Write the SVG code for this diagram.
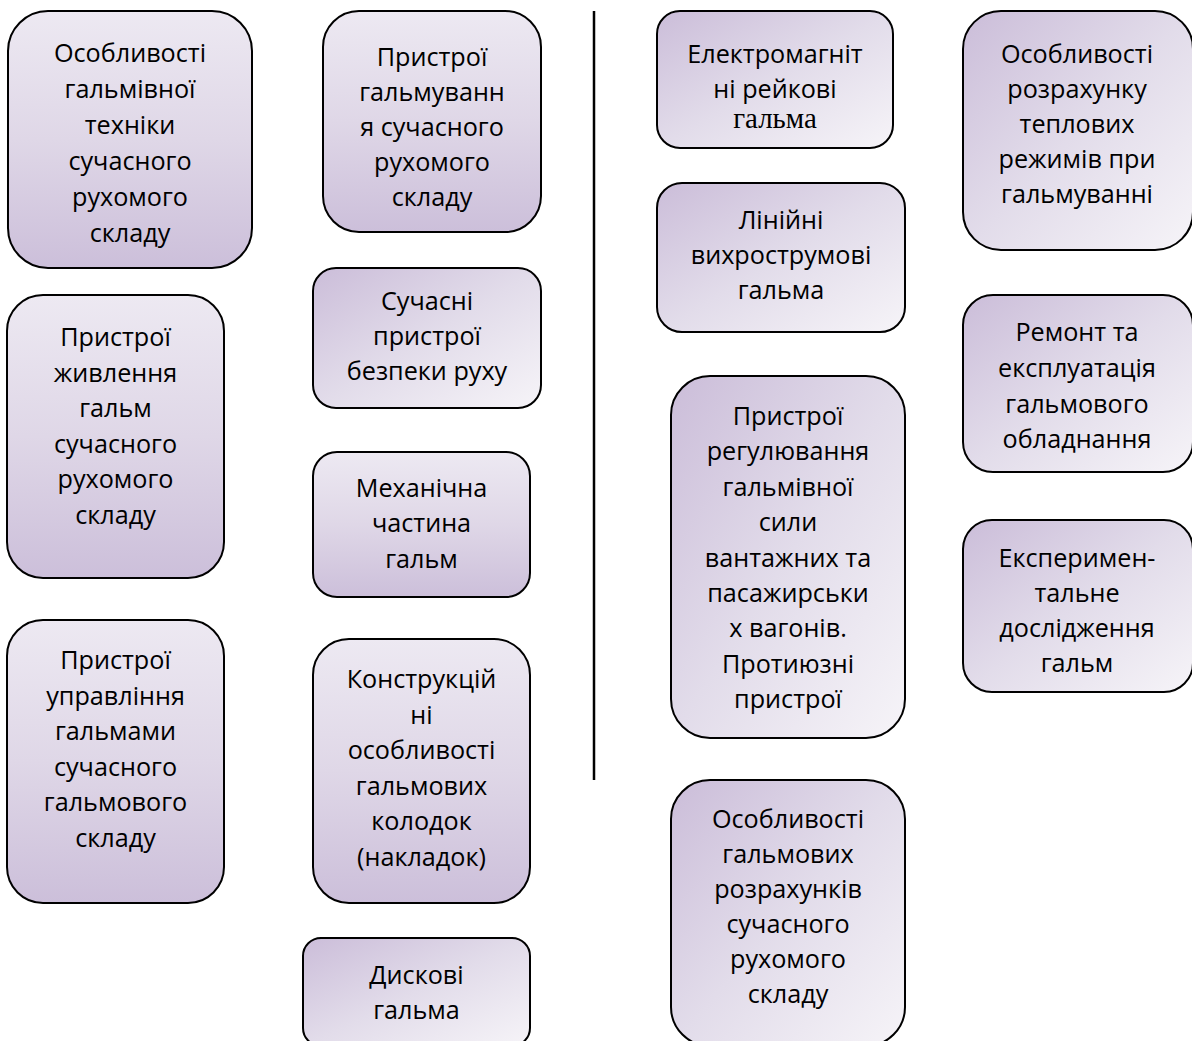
<svg xmlns="http://www.w3.org/2000/svg" width="1192" height="1041" viewBox="0 0 1192 1041">
<defs>
<linearGradient id="gA" x1="0" y1="0" x2="0" y2="1">
<stop offset="0" stop-color="#EDE9F2"/>
<stop offset="0.5" stop-color="#DFD7E7"/>
<stop offset="1" stop-color="#CCBFDA"/>
</linearGradient>
<linearGradient id="gB" x1="0" y1="0" x2="1" y2="1">
<stop offset="0" stop-color="#CBBDD9"/>
<stop offset="0.5" stop-color="#E2DCEA"/>
<stop offset="1" stop-color="#F6F4F8"/>
</linearGradient>
<style>
.a{fill:url(#gA);stroke:#000;stroke-width:2}
.b{fill:url(#gB);stroke:#000;stroke-width:2}
text{font-family:"Open Sans","Noto Sans","DejaVu Sans",sans-serif;font-size:25.2px;fill:#000;text-anchor:middle}
.serif{font-family:"Liberation Serif","DejaVu Serif",serif;font-size:29px}
</style>
</defs>
<rect width="1192" height="1041" fill="#fff"/>
<g id="connectors">
<line x1="594" y1="11" x2="594" y2="780" stroke="#000" stroke-width="2.5"/>
</g>
<g id="n1">
<rect class="a" x="8" y="11" width="244" height="257" rx="40"/>
<text x="130" y="62">Особливості</text>
<text x="130" y="98">гальмівної</text>
<text x="130" y="134">техніки</text>
<text x="130" y="170">сучасного</text>
<text x="130" y="206">рухомого</text>
<text x="130" y="242">складу</text>
</g>
<g id="n2">
<rect class="a" x="7" y="295" width="217" height="283" rx="36"/>
<text x="115.5" y="346">Пристрої</text>
<text x="115.5" y="381.5">живлення</text>
<text x="115.5" y="417">гальм</text>
<text x="115.5" y="452.5">сучасного</text>
<text x="115.5" y="488">рухомого</text>
<text x="115.5" y="523.5">складу</text>
</g>
<g id="n3">
<rect class="a" x="7" y="620" width="217" height="283" rx="36"/>
<text x="115.5" y="669">Пристрої</text>
<text x="115.5" y="704.5">управління</text>
<text x="115.5" y="740">гальмами</text>
<text x="115.5" y="775.5">сучасного</text>
<text x="115.5" y="811">гальмового</text>
<text x="115.5" y="846.5">складу</text>
</g>
<g id="n4">
<rect class="a" x="323" y="11" width="218" height="221" rx="36"/>
<text x="432" y="66">Пристрої</text>
<text x="432" y="101">гальмуванн</text>
<text x="432" y="136">я сучасного</text>
<text x="432" y="171">рухомого</text>
<text x="432" y="206">складу</text>
</g>
<g id="n5">
<rect class="b" x="313" y="268" width="228" height="140" rx="23"/>
<text x="427" y="310">Сучасні</text>
<text x="427" y="345">пристрої</text>
<text x="427" y="380">безпеки руху</text>
</g>
<g id="n6">
<rect class="a" x="313" y="452" width="217" height="145" rx="24"/>
<text x="421.5" y="497">Механічна</text>
<text x="421.5" y="532">частина</text>
<text x="421.5" y="568">гальм</text>
</g>
<g id="n7">
<rect class="a" x="313" y="639" width="217" height="264" rx="36"/>
<text x="421.5" y="688">Конструкцій</text>
<text x="421.5" y="723.5">ні</text>
<text x="421.5" y="759">особливості</text>
<text x="421.5" y="794.5">гальмових</text>
<text x="421.5" y="830">колодок</text>
<text x="421.5" y="865.5">(накладок)</text>
</g>
<g id="n8">
<rect class="b" x="303" y="938" width="227" height="108" rx="18"/>
<text x="416.5" y="984">Дискові</text>
<text x="416.5" y="1019">гальма</text>
</g>
<g id="n9">
<rect class="b" x="657" y="11" width="236" height="137" rx="23"/>
<text x="775" y="63">Електромагніт</text>
<text x="775" y="98">ні рейкові</text>
<text class="serif" x="775" y="128">гальма</text>
</g>
<g id="n10">
<rect class="b" x="657" y="183" width="248" height="149" rx="25"/>
<text x="781" y="229">Лінійні</text>
<text x="781" y="264">вихрострумові</text>
<text x="781" y="299">гальма</text>
</g>
<g id="n11">
<rect class="b" x="963" y="11" width="230" height="239" rx="38"/>
<text x="1077" y="63">Особливості</text>
<text x="1077" y="98">розрахунку</text>
<text x="1077" y="133">теплових</text>
<text x="1077" y="168">режимів при</text>
<text x="1077" y="203">гальмуванні</text>
</g>
<g id="n12">
<rect class="b" x="963" y="295" width="230" height="177" rx="30"/>
<text x="1077" y="341">Ремонт та</text>
<text x="1077" y="377">експлуатація</text>
<text x="1077" y="413">гальмового</text>
<text x="1077" y="448">обладнання</text>
</g>
<g id="n13">
<rect class="b" x="963" y="520" width="230" height="172" rx="29"/>
<text x="1077" y="567">Експеримен-</text>
<text x="1077" y="602">тальне</text>
<text x="1077" y="637">дослідження</text>
<text x="1077" y="672">гальм</text>
</g>
<g id="n14">
<rect class="b" x="671" y="376" width="234" height="362" rx="39"/>
<text x="788" y="425">Пристрої</text>
<text x="788" y="460.4">регулювання</text>
<text x="788" y="495.8">гальмівної</text>
<text x="788" y="531.2">сили</text>
<text x="788" y="566.6">вантажних та</text>
<text x="788" y="602">пасажирськи</text>
<text x="788" y="637.4">х вагонів.</text>
<text x="788" y="672.8">Протиюзні</text>
<text x="788" y="708.2">пристрої</text>
</g>
<g id="n15">
<rect class="b" x="671" y="780" width="234" height="266" rx="39"/>
<text x="788" y="828">Особливості</text>
<text x="788" y="863">гальмових</text>
<text x="788" y="898">розрахунків</text>
<text x="788" y="933">сучасного</text>
<text x="788" y="968">рухомого</text>
<text x="788" y="1003">складу</text>
</g>
</svg>
